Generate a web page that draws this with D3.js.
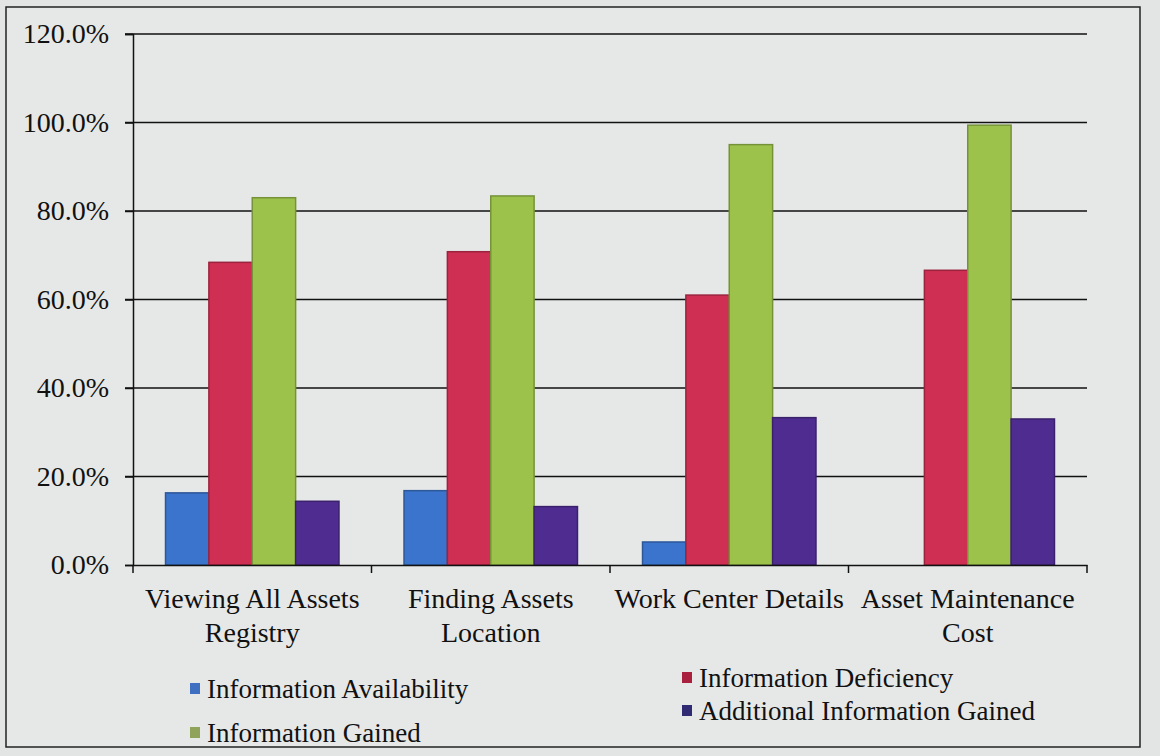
<!DOCTYPE html>
<html>
<head>
<meta charset="utf-8">
<script src="https://cdnjs.cloudflare.com/ajax/libs/d3/7.8.5/d3.min.js"></script>
<style>
  body { margin: 0; background: #e3e5e5; }
  text { font-family: "Liberation Serif", "DejaVu Serif", serif; fill: #111; }
</style>
</head>
<body>
<svg id="chart" width="1160" height="756"></svg>
<script>
    // data
    var categories = [
        ["Viewing All Assets", "Registry"],
        ["Finding Assets", "Location"],
        ["Work Center Details"],
        ["Asset Maintenance", "Cost"]
    ];
    var seriesNames = ["Information Availability", "Information Deficiency",
                       "Information Gained", "Additional Information Gained"];
    var availability = [16.3, 16.8, 5.2, 0];
    var deficiency   = [68.4, 70.8, 61.0, 66.6];
    var gained       = [83.0, 83.4, 95.0, 99.4];
    var additional   = [14.4, 13.2, 33.3, 33.0];
    var yTicks = [0, 20, 40, 60, 80, 100, 120];
    var colors = ["#3b74cc", "#cf2f52", "#9dc24c", "#4f2c90"];
    var legendColors = ["#3f6fc0", "#a8203e", "#8fa35a", "#2f2a72"];

    var allSeries = [availability, deficiency, gained, additional];

    var svg = d3.select("#chart");
    var margin = {left: 133, right: 1087, top: 34, bottom: 565};

    // outer frame
    svg.append("rect")
        .attr("x", 6).attr("y", 7)
        .attr("width", 1134).attr("height", 740)
        .attr("fill", "#e6e8e8")
        .attr("stroke", "#222").attr("stroke-width", 1.5);

    var x = d3.scaleBand()
        .domain(d3.range(categories.length))
        .range([margin.left, margin.right]);

    var xInner = d3.scaleBand()
        .domain(d3.range(allSeries.length))
        .range([0, x.bandwidth()])
        .paddingOuter(0.75)
        .paddingInner(0);

    var y = d3.scaleLinear()
        .domain([0, 120])
        .range([margin.bottom, margin.top]);

    // gridlines
    svg.append("g")
        .selectAll("line")
        .data(yTicks.filter(d => d > 0))
        .enter()
        .append("line")
        .attr("x1", margin.left - 8).attr("x2", margin.right)
        .attr("y1", d => y(d)).attr("y2", d => y(d))
        .attr("stroke", "#111").attr("stroke-width", 1.5);

    // y axis
    var yAxis = d3.axisLeft(y)
        .tickValues(yTicks)
        .tickSize(8)
        .tickFormat(d => d.toFixed(1) + "%");
    var gy = svg.append("g")
        .attr("transform", "translate(" + margin.left + ",0)")
        .call(yAxis);
    gy.select(".domain").attr("stroke", "#111").attr("stroke-width", 1.5);
    gy.selectAll(".tick line").attr("stroke", "#111").attr("stroke-width", 1.5);
    gy.selectAll(".tick text")
        .attr("x", -24)
        .style("font-size", "28px")
        .style("font-family", "Liberation Serif")
        .attr("fill", "#111");

    // bars
    var groups = svg.append("g")
        .selectAll("g")
        .data(categories)
        .enter()
        .append("g")
        .attr("transform", (d, i) => "translate(" + x(i) + ",0)");

    groups.selectAll("rect")
        .data((d, i) => allSeries.map((s, j) => ({series: j, value: s[i]})))
        .enter()
        .append("rect")
        .attr("x", d => xInner(d.series))
        .attr("width", xInner.bandwidth())
        .attr("y", d => y(d.value))
        .attr("height", d => y(0) - y(d.value))
        .attr("fill", d => colors[d.series])
        .attr("stroke", d => d3.color(colors[d.series]).darker(0.8))
        .attr("stroke-width", d => d.value > 0 ? 1.5 : 0);

    // x axis
    var xAxis = d3.axisBottom(x).tickSize(0).tickFormat("");
    var gx = svg.append("g")
        .attr("transform", "translate(0," + margin.bottom + ")")
        .call(xAxis);
    gx.select(".domain").attr("stroke", "#111").attr("stroke-width", 1.5);
    gx.selectAll(".boundary")
        .data(d3.range(categories.length + 1))
        .enter()
        .append("line")
        .attr("x1", i => margin.left + i * x.step())
        .attr("x2", i => margin.left + i * x.step())
        .attr("y1", 0).attr("y2", 8)
        .attr("stroke", "#111").attr("stroke-width", 1.5);

    svg.append("g")
        .selectAll("text")
        .data(categories)
        .enter()
        .append("text")
        .attr("text-anchor", "middle")
        .attr("x", (d, i) => x(i) + x.bandwidth() / 2)
        .attr("y", 608)
        .style("font-size", "28px")
        .each(function(d) {
            d3.select(this).selectAll("tspan")
                .data(d)
                .enter()
                .append("tspan")
                .attr("x", d3.select(this).attr("x"))
                .attr("dy", (t, k) => k === 0 ? 0 : 34)
                .text(t => t);
        });

    // legend
    var legendPos = [[190, 698], [682, 687], [190, 742], [682, 720]];
    var legend = svg.append("g")
        .selectAll("g")
        .data(seriesNames)
        .enter()
        .append("g")
        .attr("transform", (d, i) => "translate(" + legendPos[i][0] + "," + legendPos[i][1] + ")");

    legend.append("rect")
        .attr("x", 0).attr("y", -15)
        .attr("width", 10).attr("height", 11)
        .attr("fill", (d, i) => legendColors[i]);

    legend.append("text")
        .attr("x", 17).attr("y", 0)
        .style("font-size", "27px")
        .text(d => d);
</script>
</body>
</html>
